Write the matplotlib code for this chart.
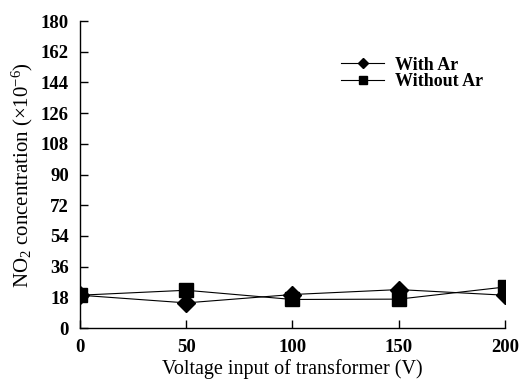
import numpy as np
import matplotlib.pyplot as plt

plt.rcParams["font.family"] = ["Liberation Serif", "DejaVu Serif"]
plt.rcParams["mathtext.fontset"] = "custom"
plt.rcParams["mathtext.rm"] = "Liberation Serif"
plt.rcParams["mathtext.default"] = "rm"

# data
voltage = [0, 50, 100, 150, 200]
with_ar = [19.3, 14.8, 19.7, 22.6, 19.3]
without_ar = [19.3, 22.2, 16.8, 17.0, 24.1]
y_ticks = [0, 18, 36, 54, 72, 90, 108, 126, 144, 162, 180]
x_ticks = [0, 50, 100, 150, 200]

fig = plt.figure(figsize=(5.19, 3.82), dpi=100)
ax = fig.add_axes([0.154, 0.141, 0.819, 0.804])

ax.plot(voltage, with_ar, color="black", lw=0.8, marker="D", ms=9,
        label="With Ar")
ax.plot(voltage, without_ar, color="black", lw=0.8, marker="s", ms=9.5,
        label="Without Ar")

ax.set_xlim(0, 200)
ax.set_ylim(0, 180)
ax.set_xticks(x_ticks)
ax.set_yticks(y_ticks)
ax.tick_params(direction="in", length=6, width=1, labelsize=13.5, pad=8)
for lab in ax.get_xticklabels() + ax.get_yticklabels():
    lab.set_fontweight("bold")
for s in ["top", "right"]:
    ax.spines[s].set_visible(False)
for s in ["left", "bottom"]:
    ax.spines[s].set_linewidth(1)

ax.set_xlabel("Voltage input of transformer (V)", fontsize=14.5, labelpad=2)
ax.set_ylabel(r"NO$_2$ concentration ($\times$10$^{-6}$)", fontsize=15,
              labelpad=4)

leg = ax.legend(loc="upper left", bbox_to_anchor=(0.657, 0.852),
                bbox_transform=fig.transFigure, frameon=False,
                prop={"size": 13, "weight": "bold"}, handlelength=2.4,
                handletextpad=0.6, labelspacing=-0.02, markerscale=0.55,
                borderpad=0, borderaxespad=0)

fig.savefig("out.png", dpi=100)
